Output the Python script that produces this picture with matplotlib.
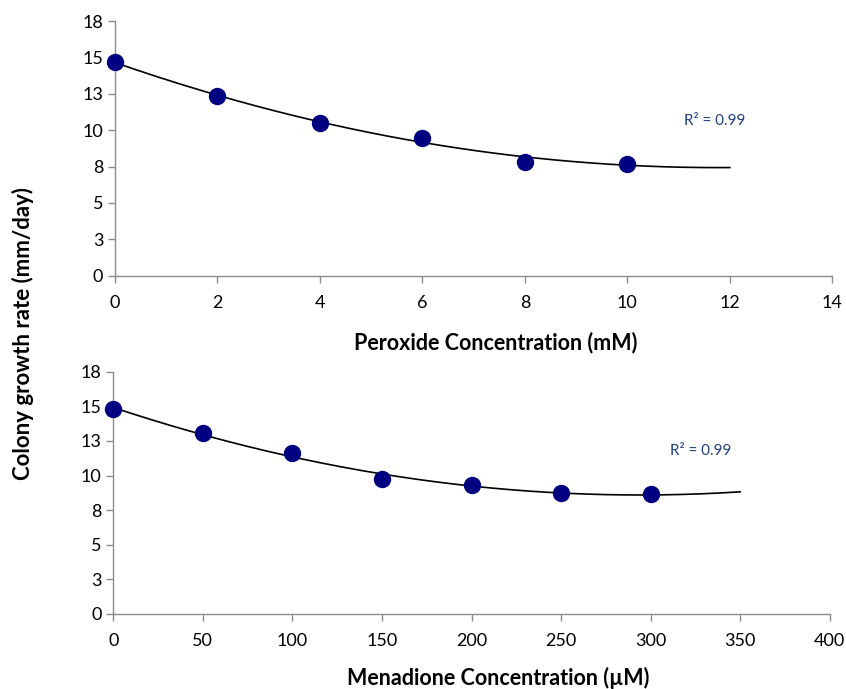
import numpy as np
import matplotlib
matplotlib.use("Agg")
import matplotlib.pyplot as plt

plt.rcParams['font.family'] = ['Lato', 'DejaVu Sans']

# Data
perox_x = [0, 2, 4, 6, 8, 10]
perox_y = [14.67, 12.33, 10.52, 9.48, 7.83, 7.70]
perox_fit_end = 12
perox_xticks = [0, 2, 4, 6, 8, 10, 12, 14]

mena_x = [0, 50, 100, 150, 200, 250, 300]
mena_y = [14.80, 13.05, 11.62, 9.77, 9.31, 8.71, 8.64]
mena_fit_end = 350
mena_xticks = [0, 50, 100, 150, 200, 250, 300, 350, 400]

yticks = [0, 2.5, 5, 7.5, 10, 12.5, 15, 17.5]
ytick_labels = ["0", "3", "5", "8", "10", "13", "15", "18"]
r2_text = "R² = 0.99"

W, H = 846, 689
fig = plt.figure(figsize=(W/100, H/100), dpi=100)

marker_color = '#000080'
axis_color = '#8c8c8c'
r2_color = '#1F3F7F'

def style(ax, xticks, xlim):
    ax.set_xlim(*xlim)
    ax.set_ylim(0, 17.5)
    ax.set_xticks(xticks)
    ax.set_yticks(yticks)
    ax.set_yticklabels(ytick_labels)
    for s in ['top', 'right']:
        ax.spines[s].set_visible(False)
    for s in ['left', 'bottom']:
        ax.spines[s].set_color(axis_color)
        ax.spines[s].set_linewidth(1.0)
    ax.tick_params(axis='both', colors=axis_color, labelcolor='black',
                   labelsize=13, length=5, width=1.0, direction='out')
    ax.tick_params(axis='x', pad=9)

# Top axes
ax1 = fig.add_axes([115/W, 1-275.7/H, (832.3-115)/W, (275.7-21)/H])
style(ax1, perox_xticks, (0, 14))
c1 = np.polyfit(perox_x, perox_y, 2)
xf1 = np.linspace(0, perox_fit_end, 200)
ax1.plot(xf1, np.polyval(c1, xf1), color='black', lw=1.2, zorder=2)
ax1.plot(perox_x, perox_y, 'o', color=marker_color, ms=11.5, zorder=3, clip_on=False)
ax1.text(11.1, 10.6, r2_text, color=r2_color, fontsize=11, ha='left', va='center')
ax1.set_xlabel("Peroxide Concentration (mM)", fontsize=15.5, fontweight='bold', va='center')
ax1.xaxis.set_label_coords(0.531, -0.262)

# Bottom axes
ax2 = fig.add_axes([113.3/W, 1-614/H, (829.7-113.3)/W, (614-371.7)/H])
style(ax2, mena_xticks, (0, 400))
c2 = np.polyfit(mena_x, mena_y, 2)
xf2 = np.linspace(0, mena_fit_end, 200)
ax2.plot(xf2, np.polyval(c2, xf2), color='black', lw=1.2, zorder=2)
ax2.plot(mena_x, mena_y, 'o', color=marker_color, ms=11.5, zorder=3, clip_on=False)
ax2.text(311, 11.8, r2_text, color=r2_color, fontsize=11, ha='left', va='center')
ax2.set_xlabel("Menadione Concentration (µM)", fontsize=15.5, fontweight='bold', va='center')
ax2.xaxis.set_label_coords(0.537, -0.266)

fig.text(23/W, 1-333/H, "Colony growth rate (mm/day)", rotation=90, fontsize=16,
         fontweight='bold', ha='center', va='center')

fig.savefig("out.png", dpi=100)
